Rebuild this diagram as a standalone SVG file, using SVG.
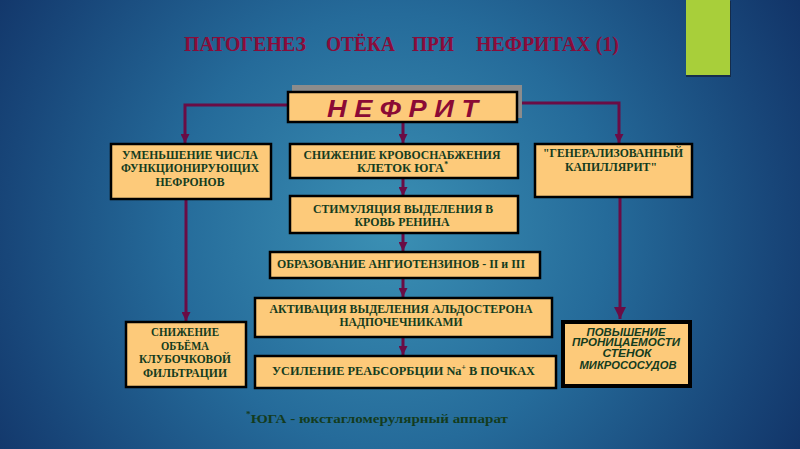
<svg xmlns="http://www.w3.org/2000/svg" width="800" height="449" viewBox="0 0 800 449">
<defs>
<radialGradient id="bg" cx="390" cy="230" r="480" gradientUnits="userSpaceOnUse">
<stop offset="0" stop-color="#3b90b4"/>
<stop offset="0.45" stop-color="#256b9a"/>
<stop offset="0.8" stop-color="#184679"/>
<stop offset="1" stop-color="#113266"/>
</radialGradient>
<marker id="ah" viewBox="0 0 10 10" refX="10" refY="5" markerWidth="3" markerHeight="3" orient="auto" markerUnits="strokeWidth">
<path d="M0,0 L10,5 L0,10 Z" fill="#6a0c45"/>
</marker>
<marker id="ahb" viewBox="0 0 10 10" refX="10" refY="5" markerWidth="4.2" markerHeight="4" orient="auto" markerUnits="strokeWidth">
<path d="M0,0 L10,5 L0,10 Z" fill="#6a0c45"/>
</marker>
<style>
.box{fill:#fdca7a;stroke:#000;stroke-width:2.5}
.t{font-family:"Liberation Serif","Times New Roman",serif;font-weight:bold;font-size:13px;fill:#143c1e}
.c{text-anchor:middle}
.it{font-family:"Liberation Sans",Arial,sans-serif;font-weight:bold;font-style:italic;font-size:11px;fill:#143c1e;text-anchor:middle}
.sup{font-size:8px}
.con{fill:none;stroke:#6a0c45;stroke-width:3}
.title{font-family:"Liberation Serif","Times New Roman",serif;font-weight:bold;font-size:22px;fill:#8a0c3a}
</style>
</defs>
<rect width="800" height="449" fill="url(#bg)"/>
<rect x="686" y="1" width="45" height="76" fill="#142640" opacity="0.8"/>
<rect x="686" y="0" width="44" height="75" fill="#a8cf3a"/>

<g id="title">
<text class="title" x="184" y="51" textLength="122" lengthAdjust="spacingAndGlyphs">ПАТОГЕНЕЗ</text>
<text class="title" x="326" y="51" textLength="69" lengthAdjust="spacingAndGlyphs">ОТЁКА</text>
<text class="title" x="412" y="51" textLength="42" lengthAdjust="spacingAndGlyphs">ПРИ</text>
<text class="title" x="476" y="51" textLength="143" lengthAdjust="spacingAndGlyphs">НЕФРИТАХ (1)</text>
</g>

<g id="connectors">
<path class="con" d="M288,105 H185 V143" marker-end="url(#ah)"/>
<path class="con" d="M518,103 H619 V143" marker-end="url(#ah)"/>
<path class="con" d="M403,122 V143" marker-end="url(#ah)"/>
<path class="con" d="M403,178 V196" marker-end="url(#ah)"/>
<path class="con" d="M403,233 V251" marker-end="url(#ah)"/>
<path class="con" d="M403,278 V297" marker-end="url(#ah)"/>
<path class="con" d="M403,337 V355" marker-end="url(#ah)"/>
<path class="con" d="M186,199 V321" marker-end="url(#ah)"/>
<path class="con" d="M620,197 V319" marker-end="url(#ahb)"/>
</g>

<g id="nefrit">
<rect x="292" y="85" width="230" height="33" fill="#8c8c8c"/>
<rect class="box" x="288" y="92" width="229" height="30"/>
<text x="327" y="117" textLength="151" lengthAdjust="spacingAndGlyphs" font-family="'Liberation Sans',Arial,sans-serif" font-weight="bold" font-style="italic" font-size="24" fill="#8b0a35">Н Е Ф Р И Т</text>
</g>

<g id="n-left">
<rect class="box" x="111" y="144" width="160" height="55"/>
<text class="t c" x="190" y="159" textLength="136" lengthAdjust="spacingAndGlyphs">УМЕНЬШЕНИЕ ЧИСЛА</text>
<text class="t c" x="190" y="172" textLength="138" lengthAdjust="spacingAndGlyphs">ФУНКЦИОНИРУЮЩИХ</text>
<text class="t c" x="190" y="186" textLength="69" lengthAdjust="spacingAndGlyphs">НЕФРОНОВ</text>
</g>

<g id="n-blood">
<rect class="box" x="290" y="144" width="228" height="34"/>
<text class="t c" x="402" y="159" textLength="197" lengthAdjust="spacingAndGlyphs">СНИЖЕНИЕ  КРОВОСНАБЖЕНИЯ</text>
<text class="t" x="357" y="172" textLength="91" lengthAdjust="spacingAndGlyphs">КЛЕТОК ЮГА<tspan class="sup" dy="-5">*</tspan></text>
</g>

<g id="n-right">
<rect class="box" x="535" y="144" width="157" height="53"/>
<text class="t c" x="613" y="157" textLength="140" lengthAdjust="spacingAndGlyphs">"ГЕНЕРАЛИЗОВАННЫЙ</text>
<text class="t c" x="611" y="171" textLength="92" lengthAdjust="spacingAndGlyphs">КАПИЛЛЯРИТ"</text>
</g>

<g id="n-renin">
<rect class="box" x="290" y="196" width="228" height="37"/>
<text class="t c" x="403" y="213" textLength="180" lengthAdjust="spacingAndGlyphs">СТИМУЛЯЦИЯ ВЫДЕЛЕНИЯ  В</text>
<text class="t c" x="402" y="226" textLength="95" lengthAdjust="spacingAndGlyphs">КРОВЬ  РЕНИНА</text>
</g>

<g id="n-angio">
<rect class="box" x="270" y="252" width="270" height="26"/>
<text class="t c" x="401" y="268" textLength="248" lengthAdjust="spacingAndGlyphs">ОБРАЗОВАНИЕ АНГИОТЕНЗИНОВ - II  и  III</text>
</g>

<g id="n-aldo">
<rect class="box" x="255" y="298" width="297" height="39"/>
<text class="t c" x="401" y="313" textLength="263" lengthAdjust="spacingAndGlyphs">АКТИВАЦИЯ  ВЫДЕЛЕНИЯ  АЛЬДОСТЕРОНА</text>
<text class="t c" x="401" y="326" textLength="123" lengthAdjust="spacingAndGlyphs">НАДПОЧЕЧНИКАМИ</text>
</g>

<g id="n-na">
<rect class="box" x="255" y="356" width="301" height="32"/>
<text class="t" x="272" y="375" textLength="263" lengthAdjust="spacingAndGlyphs">УСИЛЕНИЕ  РЕАБСОРБЦИИ  Na<tspan class="sup" dy="-5">+</tspan><tspan dy="5"> В ПОЧКАХ</tspan></text>
</g>

<g id="n-gfr">
<rect class="box" x="126" y="322" width="120" height="65"/>
<text class="t c" x="185" y="336" textLength="68" lengthAdjust="spacingAndGlyphs">СНИЖЕНИЕ</text>
<text class="t c" x="185" y="350" textLength="48" lengthAdjust="spacingAndGlyphs">ОБЪЁМА</text>
<text class="t c" x="185" y="363" textLength="92" lengthAdjust="spacingAndGlyphs">КЛУБОЧКОВОЙ</text>
<text class="t c" x="185" y="377" textLength="84" lengthAdjust="spacingAndGlyphs">ФИЛЬТРАЦИИ</text>
</g>

<g id="n-perm">
<rect x="563" y="322" width="127" height="64" fill="#fdca7a" stroke="#000" stroke-width="4"/>
<text class="it" x="626" y="336" textLength="79" lengthAdjust="spacingAndGlyphs">ПОВЫШЕНИЕ</text>
<text class="it" x="626" y="346" textLength="108" lengthAdjust="spacingAndGlyphs">ПРОНИЦАЕМОСТИ</text>
<text class="it" x="627" y="357" textLength="49" lengthAdjust="spacingAndGlyphs">СТЕНОК</text>
<text class="it" x="628" y="369" textLength="97" lengthAdjust="spacingAndGlyphs">МИКРОСОСУДОВ</text>
</g>

<g id="footnote">
<text class="t" x="246" y="423" font-size="14" textLength="262" lengthAdjust="spacingAndGlyphs"><tspan class="sup" dy="-6">*</tspan><tspan dy="6">ЮГА - юкстагломерулярный аппарат</tspan></text>
</g>
</svg>
